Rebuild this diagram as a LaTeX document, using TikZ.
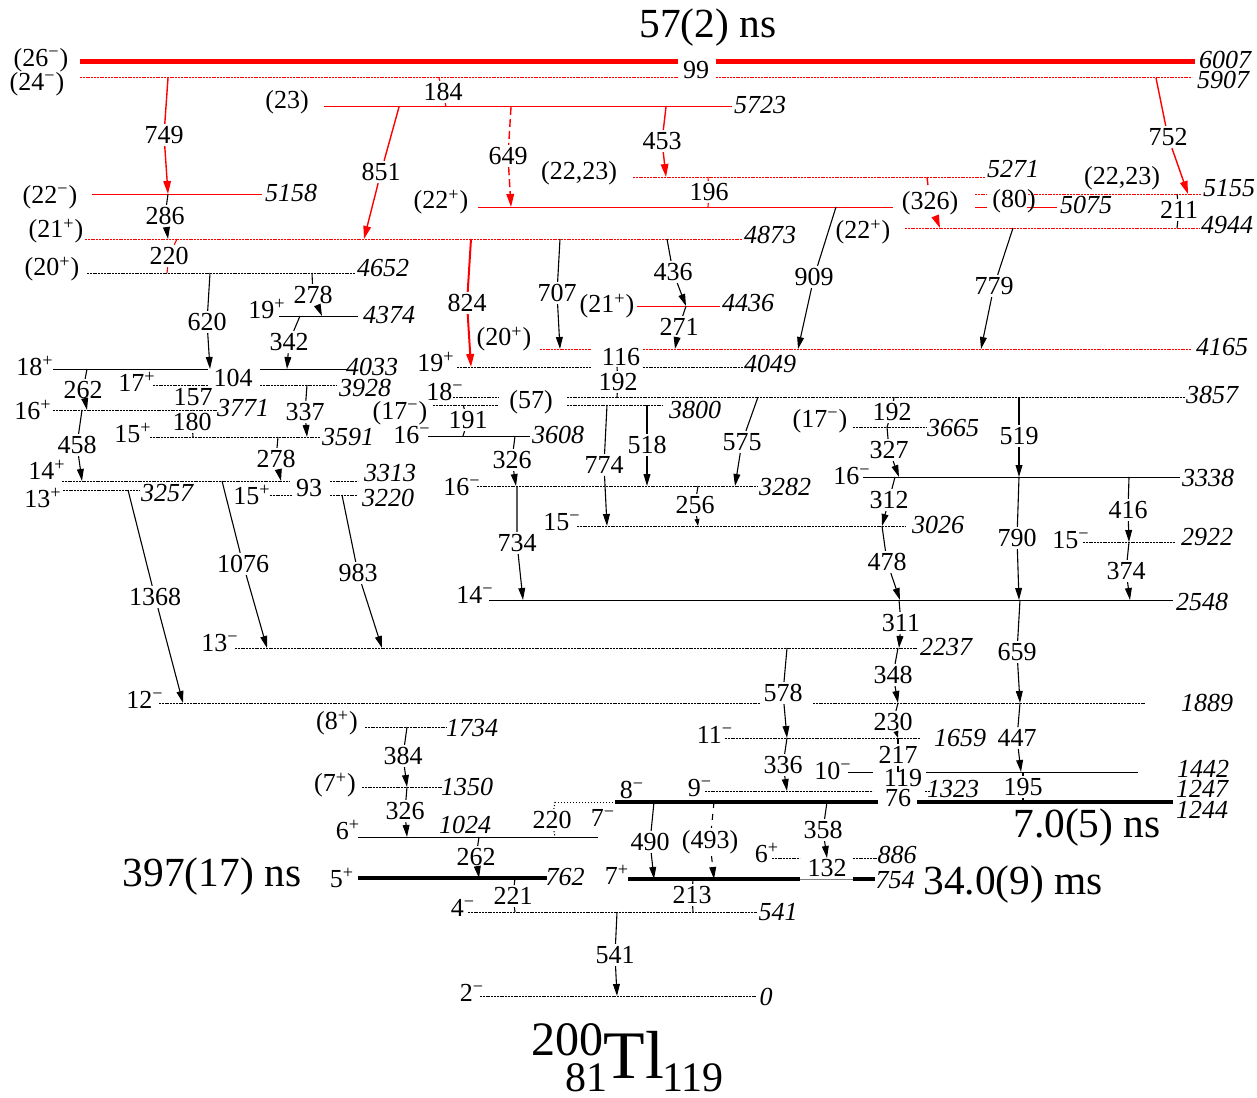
\documentclass[tikz,border=0pt]{standalone}
\usepackage{fontspec}
\setmainfont{Liberation Serif}
\usetikzlibrary{arrows.meta}

\begin{document}
\begin{tikzpicture}[x=0.5pt, y=-0.5pt,
    lvl/.style={line width=0.5pt},
    lvld/.style={line width=0.5pt, dash pattern=on 1pt off 0.4pt},
    lvlt/.style={line width=2pt},
    gam/.style={line width=0.55pt, -{Triangle[length=6pt,width=3.4pt]}},
    gams/.style={line width=0.55pt, -{Triangle[length=3.5pt,width=2.4pt]}},
    gamr/.style={red, line width=0.7pt, -{Triangle[length=6.5pt,width=3.8pt]}},
    gtick/.style={line width=0.55pt},
    gdash/.style={dash pattern=on 4pt off 2pt},
    glab/.style={font=\fontsize{13}{15}\selectfont, inner sep=1pt},
    elab/.style={font=\fontsize{13}{15}\selectfont\itshape, inner sep=0pt},
    jlab/.style={font=\fontsize{13}{15}\selectfont, inner sep=0pt},
    big/.style={font=\fontsize{20.7}{24}\selectfont, inner sep=0pt}]

\useasboundingbox (0,0) rectangle (1257,1097);

% Poziomy energetyczne
\coordinate (E6007) at (0,62);
\coordinate (E5907) at (0,78);
\coordinate (E5723) at (0,107);
\coordinate (E5271) at (0,177);
\coordinate (E5158) at (0,194);
\coordinate (E5155) at (0,194);
\coordinate (E5075) at (0,207);
\coordinate (E4944) at (0,228);
\coordinate (E4873) at (0,239);
\coordinate (E4652) at (0,273);
\coordinate (E4436) at (0,306);
\coordinate (E4374) at (0,316);
\coordinate (E4165) at (0,349);
\coordinate (E4049) at (0,367);
\coordinate (E4033) at (0,369);
\coordinate (E3928) at (0,385);
\coordinate (E3857) at (0,397);
\coordinate (E3800) at (0,405);
\coordinate (E3771) at (0,410);
\coordinate (E3665) at (0,427);
\coordinate (E3608) at (0,436);
\coordinate (E3591) at (0,437);
\coordinate (E3338) at (0,477);
\coordinate (E3313) at (0,481);
\coordinate (E3282) at (0,486);
\coordinate (E3257) at (0,490);
\coordinate (E3220) at (0,495);
\coordinate (E3026) at (0,526);
\coordinate (E2922) at (0,542);
\coordinate (E2548) at (0,600);
\coordinate (E2237) at (0,648);
\coordinate (E1889) at (0,703);
\coordinate (E1734) at (0,727);
\coordinate (E1659) at (0,738);
\coordinate (E1442) at (0,772);
\coordinate (E1350) at (0,787);
\coordinate (E1323) at (0,791);
\coordinate (E1247) at (0,802);
\coordinate (E1244) at (0,802);
\coordinate (E1024) at (0,837);
\coordinate (E886) at (0,858);
\coordinate (E762) at (0,878);
\coordinate (E754) at (0,879);
\coordinate (E541) at (0,912);
\coordinate (E0) at (0,996);

% Linie poziomow (czerwone)
\draw[red, line width=2.5pt] (80,0 |- E6007) -- (678,0 |- E6007);
\draw[red, line width=2.5pt] (716,0 |- E6007) -- (1195,0 |- E6007);
\draw[lvld, red] (80,0 |- E5907) -- (678,0 |- E5907);
\draw[lvld, red] (716,0 |- E5907) -- (1192,0 |- E5907);
\draw[lvl, red] (324,0 |- E5723) -- (732,0 |- E5723);
\draw[lvld, red] (633,0 |- E5271) -- (985,0 |- E5271);
\draw[lvl, red] (92,0 |- E5158) -- (262,0 |- E5158);
\draw[lvld, red] (975,0 |- E5155) -- (987,0 |- E5155);
\draw[lvld, red] (1028,0 |- E5155) -- (1201,0 |- E5155);
\draw[lvl, red] (478,0 |- E5075) -- (893,0 |- E5075);
\draw[lvl, red] (975,0 |- E5075) -- (987,0 |- E5075);
\draw[lvl, red] (1027,0 |- E5075) -- (1057,0 |- E5075);
\draw[lvld, red] (905,0 |- E4944) -- (1200,0 |- E4944);
\draw[lvld, red] (85,0 |- E4873) -- (743,0 |- E4873);
\draw[lvl, red] (637,0 |- E4436) -- (720,0 |- E4436);
\draw[lvld, red] (540,0 |- E4165) -- (591,0 |- E4165);
\draw[lvld, red] (643,0 |- E4165) -- (1191,0 |- E4165);

% Linie poziomow (czarne)
\draw[lvld] (87,0 |- E4652) -- (355,0 |- E4652);
\draw[lvl] (279,0 |- E4374) -- (358,0 |- E4374);
\draw[lvld] (457,0 |- E4049) -- (591,0 |- E4049);
\draw[lvld] (643,0 |- E4049) -- (743,0 |- E4049);
\draw[lvl] (53,0 |- E4033) -- (208,0 |- E4033);
\draw[lvl] (260,0 |- E4033) -- (347,0 |- E4033);
\draw[lvld] (153,0 |- E3928) -- (208,0 |- E3928);
\draw[lvld] (260,0 |- E3928) -- (337,0 |- E3928);
\draw[lvld] (453,0 |- E3857) -- (498,0 |- E3857);
\draw[lvld] (567,0 |- E3857) -- (1185,0 |- E3857);
\draw[lvld] (433,0 |- E3800) -- (498,0 |- E3800);
\draw[lvld] (567,0 |- E3800) -- (663,0 |- E3800);
\draw[lvld] (53,0 |- E3771) -- (217,0 |- E3771);
\draw[lvld] (853,0 |- E3665) -- (927,0 |- E3665);
\draw[lvl] (428,0 |- E3608) -- (530,0 |- E3608);
\draw[lvld] (150,0 |- E3591) -- (320,0 |- E3591);
\draw[lvl] (863,0 |- E3338) -- (1180,0 |- E3338);
\draw[lvld] (62,0 |- E3313) -- (290,0 |- E3313);
\draw[lvld] (330,0 |- E3313) -- (358,0 |- E3313);
\draw[lvld] (477,0 |- E3282) -- (758,0 |- E3282);
\draw[lvld] (63,0 |- E3257) -- (140,0 |- E3257);
\draw[lvld] (270,0 |- E3220) -- (292,0 |- E3220);
\draw[lvld] (330,0 |- E3220) -- (357,0 |- E3220);
\draw[lvld] (577,0 |- E3026) -- (905,0 |- E3026);
\draw[lvld] (1083,0 |- E2922) -- (1175,0 |- E2922);
\draw[lvl] (489,0 |- E2548) -- (1173,0 |- E2548);
\draw[lvld] (235,0 |- E2237) -- (917,0 |- E2237);
\draw[lvld] (159,0 |- E1889) -- (760,0 |- E1889);
\draw[lvld] (813,0 |- E1889) -- (1145,0 |- E1889);
\draw[lvld] (365,0 |- E1734) -- (447,0 |- E1734);
\draw[lvld] (725,0 |- E1659) -- (920,0 |- E1659);
\draw[lvl] (848,0 |- E1442) -- (873,0 |- E1442);
\draw[lvl] (926,0 |- E1442) -- (1138,0 |- E1442);
\draw[lvld] (362,0 |- E1350) -- (442,0 |- E1350);
\draw[lvld] (705,0 |- E1323) -- (873,0 |- E1323);
\draw[lvld] (925,0 |- E1323) -- (930,0 |- E1323);
\draw[lvlt] (615,0 |- E1247) -- (878,0 |- E1247);
\draw[lvlt] (917,0 |- E1247) -- (1173,0 |- E1247);
\draw[lvl, densely dotted] (555,0 |- E1244) -- (615,0 |- E1244);
\draw[lvl] (358,0 |- E1024) -- (598,0 |- E1024);
\draw[lvld] (772,0 |- E886) -- (800,0 |- E886);
\draw[lvld] (853,0 |- E886) -- (877,0 |- E886);
\draw[lvlt] (358,0 |- E762) -- (547,0 |- E762);
\draw[lvlt] (628,0 |- E754) -- (800,0 |- E754);
\draw[lvl, gray] (800,0 |- E754) -- (853,0 |- E754);
\draw[lvlt] (853,0 |- E754) -- (875,0 |- E754);
\draw[lvld] (468,0 |- E541) -- (757,0 |- E541);
\draw[lvld] (480,0 |- E0) -- (757,0 |- E0);

% Spiny
\node[jlab] (j6007) at (41,60) {(26\textsuperscript{−})};
\node[jlab] (j5907) at (37,84) {(24\textsuperscript{−})};
\node[jlab] (j5723) at (287,102) {(23)};
\node[jlab] (j5271) at (579,173) {(22,23)};
\node[jlab] (j5158) at (50,197) {(22\textsuperscript{−})};
\node[jlab] (j5155) at (1122,178) {(22,23)};
\node[jlab] (j5075) at (441,202) {(22\textsuperscript{+})};
\node[jlab] (j4944) at (863,232) {(22\textsuperscript{+})};
\node[jlab] (j4873) at (56,231) {(21\textsuperscript{+})};
\node[jlab] (j4652) at (52,269) {(20\textsuperscript{+})};
\node[jlab] (j4436) at (607,306) {(21\textsuperscript{+})};
\node[jlab] (j4374) at (267,309) {19\textsuperscript{+}};
\node[jlab] (j4165) at (504,339) {(20\textsuperscript{+})};
\node[jlab] (j4049) at (436,362) {19\textsuperscript{+}};
\node[jlab] (j4033) at (35,366) {18\textsuperscript{+}};
\node[jlab] (j3928) at (137,382) {17\textsuperscript{+}};
\node[jlab] (j3857) at (445,392) {18\textsuperscript{−}};
\node[jlab] (j3800) at (400,413) {(17\textsuperscript{−})};
\node[jlab] (j3771) at (33,410) {16\textsuperscript{+}};
\node[jlab] (j3665) at (820,421) {(17\textsuperscript{−})};
\node[jlab] (j3608) at (412,435) {16\textsuperscript{−}};
\node[jlab] (j3591) at (133,433) {15\textsuperscript{+}};
\node[jlab] (j3338) at (852,476) {16\textsuperscript{−}};
\node[jlab] (j3313) at (47,470) {14\textsuperscript{+}};
\node[jlab] (j3282) at (462,487) {16\textsuperscript{−}};
\node[jlab] (j3257) at (43,498) {13\textsuperscript{+}};
\node[jlab] (j3220) at (252,495) {15\textsuperscript{+}};
\node[jlab] (j3026) at (562,522) {15\textsuperscript{−}};
\node[jlab] (j2922) at (1071,540) {15\textsuperscript{−}};
\node[jlab] (j2548) at (475,595) {14\textsuperscript{−}};
\node[jlab] (j2237) at (220,643) {13\textsuperscript{−}};
\node[jlab] (j1889) at (145,700) {12\textsuperscript{−}};
\node[jlab] (j1734) at (337,723) {(8\textsuperscript{+})};
\node[jlab] (j1659) at (715,735) {11\textsuperscript{−}};
\node[jlab] (j1442) at (833,771) {10\textsuperscript{−}};
\node[jlab] (j1350) at (335,785) {(7\textsuperscript{+})};
\node[jlab] (j1323) at (700,788) {9\textsuperscript{−}};
\node[jlab] (j1247) at (632,790) {8\textsuperscript{−}};
\node[jlab] (j1244) at (603,818) {7\textsuperscript{−}};
\node[jlab] (j1024) at (348,830) {6\textsuperscript{+}};
\node[jlab] (j886) at (767,853) {6\textsuperscript{+}};
\node[jlab] (j762) at (342,878) {5\textsuperscript{+}};
\node[jlab] (j754) at (617,875) {7\textsuperscript{+}};
\node[jlab] (j541) at (463,908) {4\textsuperscript{−}};
\node[jlab] (j0) at (472,993) {2\textsuperscript{−}};

% Energie
\node[elab] (e6007) at (1225,60) {6007};
\node[elab] (e5907) at (1223,80) {5907};
\node[elab] (e5723) at (760,105) {5723};
\node[elab] (e5271) at (1013,169) {5271};
\node[elab] (e5158) at (291,193) {5158};
\node[elab] (e5155) at (1229,188) {5155};
\node[elab] (e5075) at (1086,205) {5075};
\node[elab] (e4944) at (1227,225) {4944};
\node[elab] (e4873) at (770,235) {4873};
\node[elab] (e4652) at (383,268) {4652};
\node[elab] (e4436) at (748,303) {4436};
\node[elab] (e4374) at (389,315) {4374};
\node[elab] (e4165) at (1222,347) {4165};
\node[elab] (e4049) at (770,364) {4049};
\node[elab] (e4033) at (372,367) {4033};
\node[elab] (e3928) at (365,388) {3928};
\node[elab] (e3857) at (1212,395) {3857};
\node[elab] (e3800) at (695,410) {3800};
\node[elab] (e3771) at (243,408) {3771};
\node[elab] (e3665) at (953,428) {3665};
\node[elab] (e3608) at (558,435) {3608};
\node[elab] (e3591) at (348,437) {3591};
\node[elab] (e3338) at (1208,478) {3338};
\node[elab] (e3313) at (390,473) {3313};
\node[elab] (e3282) at (785,487) {3282};
\node[elab] (e3257) at (167,493) {3257};
\node[elab] (e3220) at (388,498) {3220};
\node[elab] (e3026) at (938,525) {3026};
\node[elab] (e2922) at (1207,537) {2922};
\node[elab] (e2548) at (1202,602) {2548};
\node[elab] (e2237) at (946,647) {2237};
\node[elab] (e1889) at (1207,703) {1889};
\node[elab] (e1734) at (472,728) {1734};
\node[elab] (e1659) at (960,738) {1659};
\node[elab] (e1442) at (1203,769) {1442};
\node[elab] (e1350) at (467,787) {1350};
\node[elab] (e1323) at (953,789) {1323};
\node[elab] (e1247) at (1202,789) {1247};
\node[elab] (e1244) at (1202,810) {1244};
\node[elab] (e1024) at (465,825) {1024};
\node[elab] (e886) at (897,855) {886};
\node[elab] (e762) at (565,877) {762};
\node[elab] (e754) at (895,880) {754};
\node[elab] (e541) at (778,912) {541};
\node[elab] (e0) at (766,997) {0};

% Przejscia (czerwone)
\node[glab] (g749) at (164,135) {749};
\draw[gamr] (168,0 |- E5907) -- (g749) -- (168,0 |- E5158);
\node[glab] (g851) at (381,172) {851};
\draw[gamr] (399,0 |- E5723) -- (g851) -- (364,0 |- E4873);
\node[glab] (g184) at (443,92) {184};
\draw[gtick, red] (439,0 |- E5907) -- (g184) -- (446,0 |- E5723);
\node[glab] (g649) at (508,156) {649};
\draw[gamr, gdash] (511,0 |- E5723) -- (g649) -- (511,0 |- E5075);
\node[glab] (g453) at (662,141) {453};
\draw[gamr] (666,0 |- E5723) -- (g453) -- (666,0 |- E5271);
\node[glab] (g196) at (709,192) {196};
\draw[gtick, red, gdash] (708,0 |- E5271) -- (g196) -- (708,0 |- E5075);
\node[glab] (g752) at (1168,137) {752};
\draw[gamr] (1156,0 |- E5907) -- (g752) -- (1188,0 |- E5155);
\node[glab] (g326c) at (930,203) {(326)};
\draw[gamr, gdash] (927,0 |- E5271) -- (g326c) -- (940,0 |- E4944);
\node[glab] (g220a) at (169,256) {220};
\draw[gtick, red, gdash] (177,0 |- E4873) -- (g220a) -- (167,0 |- E4652);
\node[glab] (g824) at (467,303) {824};
\draw[gamr, line width=1pt] (471,0 |- E4873) -- (g824) -- (471,0 |- E4049);
\node[glab] (g99) at (696,70) {99};
\node[glab] (g80) at (1014,201) {(80)};

% Przejscia (czarne)
\node[glab] (g211) at (1179,210) {211};
\draw[gtick, gdash] (1177,0 |- E5155) -- (g211) -- (1177,0 |- E4944);
\node[glab] (g286) at (165,216) {286};
\draw[gam] (168,0 |- E5158) -- (g286) -- (168,0 |- E4873);
\node[glab] (g707) at (557,293) {707};
\draw[gam] (560,0 |- E4873) -- (g707) -- (560,0 |- E4165);
\node[glab] (g436) at (673,272) {436};
\draw[gam] (667,0 |- E4873) -- (g436) -- (686,0 |- E4436);
\node[glab] (g271) at (679,327) {271};
\draw[gam] (686,0 |- E4436) -- (g271) -- (675,0 |- E4165);
\node[glab] (g909) at (814,277) {909};
\draw[gam] (836,0 |- E5075) -- (g909) -- (798,0 |- E4165);
\node[glab] (g779) at (994,286) {779};
\draw[gam] (1013,0 |- E4944) -- (g779) -- (981,0 |- E4165);
\node[glab] (g116) at (621,357) {116};
\node[glab] (g620) at (207,322) {620};
\draw[gam] (210,0 |- E4652) -- (g620) -- (210,0 |- E4033);
\node[glab] (g278a) at (313,295) {278};
\draw[gam] (312,0 |- E4652) -- (g278a) -- (322,0 |- E4374);
\node[glab] (g342) at (289,342) {342};
\draw[gam] (300,0 |- E4374) -- (g342) -- (287,0 |- E4033);
\node[glab] (g104) at (233,378) {104};
\node[glab] (g262a) at (83,390) {262};
\draw[gam] (87,0 |- E4033) -- (g262a) -- (87,0 |- E3771);
\node[glab] (g157) at (193,397) {157};
\node[glab] (g337) at (305,412) {337};
\draw[gam] (307,0 |- E3928) -- (g337) -- (307,0 |- E3591);
\node[glab] (g180) at (192,422) {180};
\draw[gtick] (193,0 |- E3771) -- (g180) -- (193,0 |- E3591);
\node[glab] (g458) at (77,445) {458};
\draw[gam] (82,0 |- E3771) -- (g458) -- (82,0 |- E3313);
\node[glab] (g278b) at (276,459) {278};
\draw[gam] (278,0 |- E3591) -- (g278b) -- (281,0 |- E3313);
\node[glab] (g93) at (309,488) {93};
\node[glab] (g1368) at (155,597) {1368};
\draw[gam] (128,0 |- E3257) -- (g1368) -- (183,0 |- E1889);
\node[glab] (g1076) at (243,564) {1076};
\draw[gam] (222,0 |- E3313) -- (g1076) -- (267,0 |- E2237);
\node[glab] (g983) at (358,573) {983};
\draw[gam] (342,0 |- E3220) -- (g983) -- (382,0 |- E2237);
\node[glab] (g192a) at (618,382) {192};
\draw[gtick] (617,0 |- E4049) -- (g192a) -- (617,0 |- E3857);
\node[glab] (g57) at (531,402) {(57)};
\node[glab] (g191) at (468,420) {191};
\draw[gtick] (463,0 |- E3800) -- (g191) -- (463,0 |- E3608);
\node[glab] (g326a) at (512,460) {326};
\draw[gam] (515,0 |- E3608) -- (g326a) -- (516,0 |- E3282);
\node[glab] (g774) at (604,465) {774};
\draw[gam] (607,0 |- E3800) -- (g774) -- (607,0 |- E3026);
\node[glab] (g518) at (647,445) {518};
\draw[gam] (647,0 |- E3800) -- (g518) -- (647,0 |- E3282);
\node[glab] (g575) at (742,442) {575};
\draw[gam] (758,0 |- E3857) -- (g575) -- (735,0 |- E3282);
\node[glab] (g256) at (695,505) {256};
\draw[gams] (698,0 |- E3282) -- (g256) -- (698,0 |- E3026);
\node[glab] (g734) at (517,543) {734};
\draw[gam] (517,0 |- E3282) -- (g734) -- (523,0 |- E2548);
\node[glab] (g192b) at (892,412) {192};
\draw[gtick] (894,0 |- E3857) -- (g192b) -- (887,0 |- E3665);
\node[glab] (g327) at (889,450) {327};
\draw[gam] (887,0 |- E3665) -- (g327) -- (899,0 |- E3338);
\node[glab] (g519) at (1019,436) {519};
\draw[gam] (1019,0 |- E3857) -- (g519) -- (1019,0 |- E3338);
\node[glab] (g312) at (889,500) {312};
\draw[gam] (895,0 |- E3338) -- (g312) -- (882,0 |- E3026);
\node[glab] (g478) at (887,562) {478};
\draw[gam] (882,0 |- E3026) -- (g478) -- (900,0 |- E2548);
\node[glab] (g790) at (1017,538) {790};
\draw[gam] (1019,0 |- E3338) -- (g790) -- (1019,0 |- E2548);
\node[glab] (g416) at (1128,510) {416};
\draw[gam] (1129,0 |- E3338) -- (g416) -- (1129,0 |- E2922);
\node[glab] (g374) at (1126,571) {374};
\draw[gam] (1129,0 |- E2922) -- (g374) -- (1130,0 |- E2548);
\node[glab] (g311) at (901,623) {311};
\draw[gam] (899,0 |- E2548) -- (g311) -- (899,0 |- E2237);
\node[glab] (g659) at (1017,652) {659};
\draw[gam] (1020,0 |- E2548) -- (g659) -- (1020,0 |- E1889);
\node[glab] (g348) at (893,675) {348};
\draw[gam] (898,0 |- E2237) -- (g348) -- (898,0 |- E1889);
\node[glab] (g578) at (783,693) {578};
\draw[gam] (787,0 |- E2237) -- (g578) -- (787,0 |- E1659);
\node[glab] (g230) at (893,722) {230};
\draw[gams] (898,0 |- E1889) -- (g230) -- (898,0 |- E1659);
\node[glab] (g447) at (1017,738) {447};
\draw[gam] (1020,0 |- E1889) -- (g447) -- (1021,0 |- E1442);
\node[glab] (g217) at (898,755) {217};
\draw[gtick] (898,0 |- E1659) -- (g217) -- (898,0 |- E1442);
\node[glab] (g119) at (903,778) {119};
\node[glab] (g76) at (898,798) {76};
\node[glab] (g336) at (783,765) {336};
\draw[gam] (787,0 |- E1659) -- (g336) -- (787,0 |- E1323);
\node[glab] (g195) at (1023,787) {195};
\draw[gtick] (1023,0 |- E1442) -- (g195) -- (1023,0 |- E1247);
\node[glab] (g384) at (403,756) {384};
\draw[gam] (407,0 |- E1734) -- (g384) -- (407,0 |- E1350);
\node[glab] (g326b) at (405,811) {326};
\draw[gam] (407,0 |- E1350) -- (g326b) -- (407,0 |- E1024);
\node[glab] (g220b) at (552,820) {220};
\draw[gtick, densely dotted] (555,0 |- E1244) -- (g220b) -- (555,0 |- E1024);
\node[glab] (g262b) at (476,857) {262};
\draw[gam] (479,0 |- E1024) -- (g262b) -- (479,0 |- E762);
\node[glab] (g490) at (650,842) {490};
\draw[gam] (654,0 |- E1244) -- (g490) -- (654,0 |- E754);
\node[glab] (g493) at (710,842) {(493)};
\draw[gam, dashed] (714,0 |- E1247) -- (g493) -- (714,0 |- E754);
\node[glab] (g358) at (823,830) {358};
\draw[gam] (827,0 |- E1247) -- (g358) -- (827,0 |- E886);
\node[glab] (g132) at (827,868) {132};
\node[glab] (g221) at (513,896) {221};
\draw[gtick] (515,0 |- E762) -- (g221) -- (515,0 |- E541);
\node[glab] (g213) at (692,895) {213};
\draw[gtick] (693,0 |- E754) -- (g213) -- (693,0 |- E541);
\node[glab] (g541) at (615,955) {541};
\draw[gam] (617,0 |- E541) -- (g541) -- (617,0 |- E0);

% Czasy zycia i nazwa jadra
\node[big] (t6007) at (708,28) {57(2) ns};
\node[big] (t762) at (212,877) {397(17) ns};
\node[big] (t1247) at (1087,828) {7.0(5) ns};
\node[big] (t754) at (1013,885) {34.0(9) ms};
\node[font=\fontsize{34}{34}\selectfont, inner sep=0pt] (tl) at (634,1055) {Tl};
\node[font=\fontsize{24}{24}\selectfont, inner sep=0pt] (a200) at (567,1040) {200};
\node[font=\fontsize{21}{21}\selectfont, inner sep=0pt] (z81) at (586,1078) {81};
\node[font=\fontsize{21}{21}\selectfont, inner sep=0pt] (n119) at (693,1078) {119};
\end{tikzpicture}
\end{document}
